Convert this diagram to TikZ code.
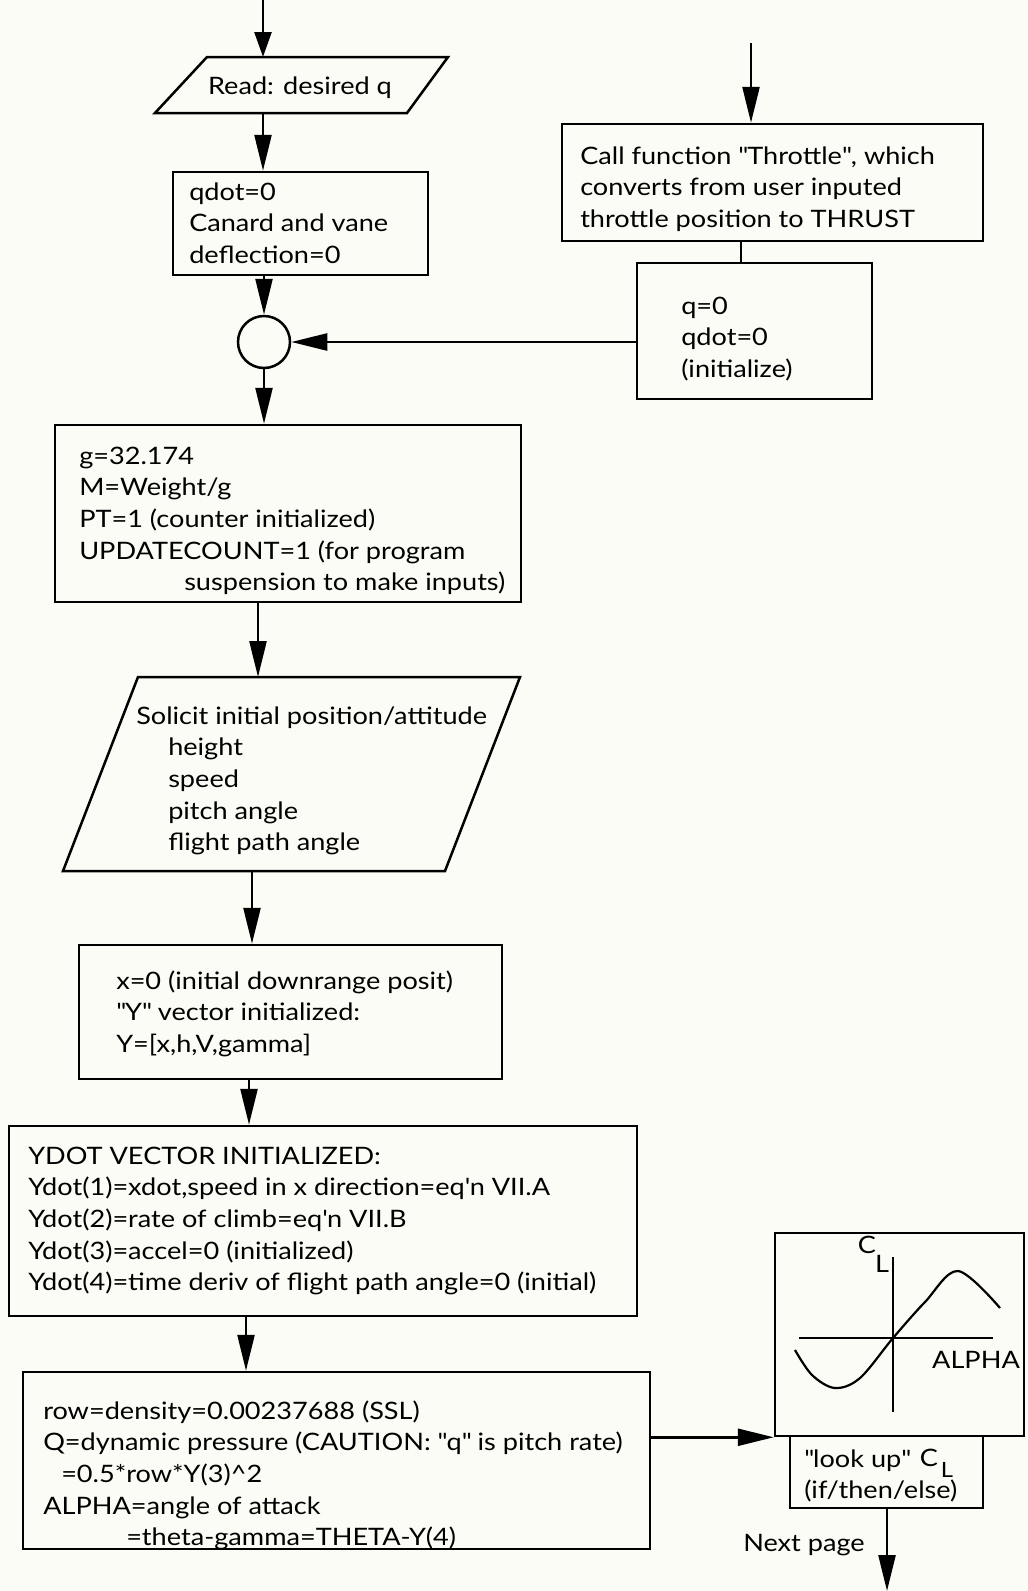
\documentclass[tikz,border=0pt]{standalone}
\usepackage{fontspec}
\setmainfont{Lato}[FakeStretch=1.13]
\usetikzlibrary{arrows.meta}
\definecolor{bgcol}{RGB}{252,252,246}
\newcommand{\dq}{\textquotedbl}
\begin{document}
\begin{tikzpicture}[x=1pt,y=-1pt,
  line width=2.5pt,
  arr/.style={-{Triangle[length=36pt,width=17pt]}},
  arrs/.style={-{Triangle[length=25pt,width=17pt]}},
  boxn/.style={draw, rectangle, inner sep=0pt},
  txt/.style={anchor=north west, inner sep=0pt, align=left, font=\fontsize{24}{31.6}\selectfont},
  lbl/.style={inner sep=0pt, font=\fontsize{24}{31.6}\selectfont},
]
\fill[bgcol] (0,0) rectangle (1028,1591);
\useasboundingbox (0,0) rectangle (1028,1591);

% ---- left column top
\coordinate (top1) at (263,0);
\coordinate (rdtop) at (263,57);
\coordinate (rdbot) at (263,113);
\draw (207,57) -- (448,57) -- (407,113) -- (155,113) -- cycle;
\node[lbl] (readtxt) at (300,88) {Read: desired q};

\node[boxn, minimum width=255pt, minimum height=103pt] (qdot) at (300.5,223.5) {};
\node[txt] (qdottxt) at (188,177) {\strut qdot=0\\Canard and vane\\deflection=0};

\node[draw, circle, inner sep=0pt, minimum size=52pt] (circ) at (264,342) {};

% ---- right column top
\coordinate (top2) at (751,43);
\node[boxn, minimum width=421pt, minimum height=117pt] (call) at (772.5,182.5) {};
\node[txt] (calltxt) at (579,141) {\strut Call function \dq Throttle\dq, which\\converts from user inputed\\throttle position to THRUST};
\coordinate (c2) at (741,263);
\node[boxn, minimum width=235pt, minimum height=136pt] (qzero) at (754.5,331) {};
\node[txt] (qzerotxt) at (680,291) {\strut q=0\\qdot=0\\(initialize)};

% ---- g box
\node[boxn, minimum width=466pt, minimum height=177pt] (gbox) at (288,513.5) {};
\node[txt] (gtxt) at (78,441) {\strut g=32.174\\M=Weight/g\\PT=1 (counter initialized)\\UPDATECOUNT=1 (for program\\\hspace*{105pt}suspension to make inputs)};

% ---- solicit parallelogram
\coordinate (p2top) at (258,677);
\coordinate (p2bot) at (252,871);
\draw (138,677) -- (520,677) -- (445,871) -- (63,871) -- cycle;
\node[txt] (soltxt) at (135,701) {\strut Solicit initial position/attitude\\\hspace*{32pt}height\\\hspace*{32pt}speed\\\hspace*{32pt}pitch angle\\\hspace*{32pt}flight path angle};

% ---- x box
\node[boxn, minimum width=423pt, minimum height=134pt] (xbox) at (290.5,1012) {};
\node[txt] (xtxt) at (115,966) {\strut x=0 (initial downrange posit)\\\dq Y\dq{} vector initialized:\\Y=[x,h,V,gamma]};
\coordinate (c3) at (249,1100);

% ---- ydot box
\node[boxn, minimum width=628pt, minimum height=190pt] (ydot) at (323,1221) {};
\node[txt] (ydottxt) at (27,1141) {\strut YDOT VECTOR INITIALIZED:\\Ydot(1)=xdot,speed in x direction=eq\textquotesingle n VII.A\\Ydot(2)=rate of climb=eq\textquotesingle n VII.B\\Ydot(3)=accel=0 (initialized)\\Ydot(4)=time deriv of flight path angle=0 (initial)};
\coordinate (c4) at (246,1340);

% ---- row box
\node[boxn, minimum width=627pt, minimum height=177pt] (rowb) at (336.5,1460.5) {};
\node[txt] (rowtxt) at (42,1396) {\strut row=density=0.00237688 (SSL)\\Q=dynamic pressure (CAUTION: \dq q\dq{} is pitch rate)\\\hspace*{18pt}=0.5*row*Y(3)\textasciicircum 2\\ALPHA=angle of attack\\\hspace*{83pt}=theta-gamma=THETA-Y(4)};

% ---- CL plot box
\node[boxn, minimum width=249pt, minimum height=203pt] (clbox) at (899.5,1334.5) {};
\coordinate (ax1) at (893,1257);
\coordinate (ax2) at (893,1412);
\coordinate (ay1) at (799,1338);
\coordinate (ay2) at (993,1338);
\draw[line width=2.2pt] (ax1) -- (ax2);
\draw[line width=2.2pt] (ay1) -- (ay2);
\draw[line width=2.2pt] plot[smooth, tension=0.55] coordinates {(795,1350) (812,1375) (835,1388) (860,1378) (893,1338) (925,1302) (958,1271) (1000,1308)};
\node[lbl] (clc) at (867,1245) {C};
\node[lbl] (cll) at (882,1264) {L};
\node[lbl] (alpha) at (976,1360) {ALPHA};

\node[boxn, minimum width=193pt, minimum height=72pt] (lookup) at (886.5,1472) {};
\node[txt] (looktxt) at (803,1444) {\strut \dq look up\dq\\(if/then/else)};
\node[lbl] (lkc) at (929,1458) {C};
\node[lbl, font=\fontsize{21}{25}\selectfont] (lkl) at (947,1470) {L};
\coordinate (c6) at (887,1591);
\node[lbl, anchor=east] (nextp) at (866,1545) {Next page};

% ---- connectors
\draw[arrs] (top1) -- (rdtop);
\draw[arr] (rdbot) -- (rdbot |- qdot.north);
\draw[arr] (circ.north |- qdot.south) -- (circ.north);
\draw[arr] (circ.south) -- (circ.south |- gbox.north);
\draw[arr] (top2) -- (top2 |- call.north);
\draw (call.south -| c2) -- (c2);
\draw[arr] (qzero.west |- circ.east) -- (circ.east);
\draw[arr] (gbox.south -| p2top) -- (p2top);
\draw[arr] (p2bot) -- (p2bot |- xbox.north);
\draw[arr] (xbox.south -| c3) -- (c3 |- ydot.north);
\draw[arr] (ydot.south -| c4) -- (c4 |- rowb.north);
\draw[arr] (rowb.east |- clbox.south west) -- (clbox.south west);
\draw[arr] (lookup.south -| c6) -- (c6);
\end{tikzpicture}
\end{document}
